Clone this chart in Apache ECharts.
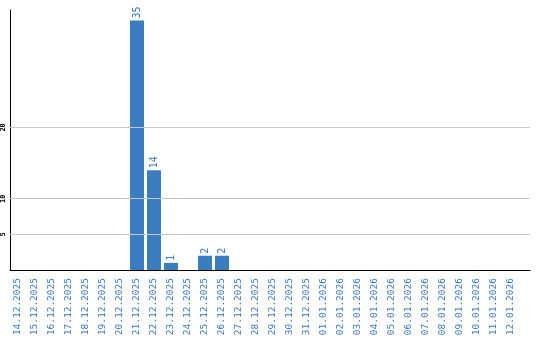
<!DOCTYPE html>
<html><head><meta charset="utf-8">
<script src="https://cdn.jsdelivr.net/npm/echarts@6/dist/echarts.min.js"></script>
<style>html,body{margin:0;padding:0;background:#fff}#c{width:540px;height:340px}</style>
</head><body><div id="c"></div>
<script>
const categories = ['14.12.2025','15.12.2025','16.12.2025','17.12.2025','18.12.2025','19.12.2025','20.12.2025','21.12.2025','22.12.2025','23.12.2025','24.12.2025','25.12.2025','26.12.2025','27.12.2025','28.12.2025','29.12.2025','30.12.2025','31.12.2025','01.01.2026','02.01.2026','03.01.2026','04.01.2026','05.01.2026','06.01.2026','07.01.2026','08.01.2026','09.01.2026','10.01.2026','11.01.2026','12.01.2026'];
const values = [0,0,0,0,0,0,0,35,14,1,0,2,2,0,0,0,0,0,0,0,0,0,0,0,0,0,0,0,0,0];
const yTicks = [5,10,20];
const yMax = 36.46;

const blue = '#3b7dc1';
const textBlue = '#3a78c2';
const chart = echarts.init(document.getElementById('c'), null, {renderer:'canvas'});
chart.setOption({
  animation:false,
  grid:[
    {left:10, right:10, top:10, bottom:70},
    {left:9.5, right:20.5, top:10, bottom:70}
  ],
  xAxis:[
    {gridIndex:0, type:'value', min:0, max:1, axisLine:{show:true, onZero:false, lineStyle:{color:'#000', width:1}}, axisTick:{show:false}, axisLabel:{show:false}, splitLine:{show:false}},
    {gridIndex:1, type:'category', data:categories, axisLine:{show:false}, axisTick:{show:false},
     axisLabel:{interval:0, rotate:90, margin:8, color:textBlue, fontFamily:'DejaVu Sans Mono', fontSize:9.5}}
  ],
  yAxis:[
    {gridIndex:0, type:'value', min:0, max:yMax, axisLine:{show:true, lineStyle:{color:'#000', width:1}}, axisTick:{show:false},
     splitLine:{show:false},
     axisLabel:{customValues:yTicks, rotate:90, margin:3, color:'#000', fontFamily:'DejaVu Sans Mono', fontWeight:'bold', fontSize:7}},
    {gridIndex:1, type:'value', min:0, max:yMax, show:false}
  ],
  series:[{
    type:'line', xAxisIndex:0, yAxisIndex:0, data:[], silent:true, z:0,
    markLine:{silent:true, symbol:'none', label:{show:false},
      lineStyle:{color:'#c8c8c8', width:1, type:'solid'},
      data: yTicks.map(v => ({yAxis:v}))}
  },{
    type:'bar', xAxisIndex:1, yAxisIndex:1, data:values, barWidth:14, z:2,
    itemStyle:{color:blue},
    label:{show:true, position:'top', rotate:90, align:'left', verticalAlign:'middle', distance:2,
      color:textBlue, fontFamily:'DejaVu Sans Mono', fontSize:10,
      formatter:p => p.value ? String(p.value) : ''}
  }]
});
</script></body></html>
